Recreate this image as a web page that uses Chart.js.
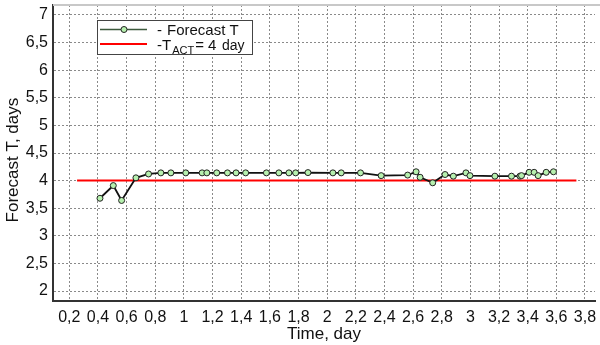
<!DOCTYPE html>
<html><head><meta charset="utf-8">
<script src="https://cdn.jsdelivr.net/npm/chart.js@4/dist/chart.umd.min.js"></script>
<style>html,body{margin:0;padding:0;background:#fff;}canvas{display:block;}</style>
</head><body>
<canvas id="c" width="600" height="345"></canvas>
<script>
// ---- data ----
const timeDays = [0.414, 0.507, 0.565, 0.665, 0.753, 0.839, 0.909, 1.013, 1.127, 1.160,
  1.229, 1.304, 1.364, 1.431, 1.576, 1.663, 1.733, 1.780, 1.866, 2.040,
  2.098, 2.233, 2.377, 2.562, 2.621, 2.649, 2.737, 2.823, 2.881, 2.969,
  2.997, 3.171, 3.287, 3.346, 3.357, 3.410, 3.445, 3.473, 3.529, 3.580];
const forecastT = [3.68, 3.91, 3.64, 4.05, 4.12, 4.14, 4.14, 4.14, 4.14, 4.14,
  4.14, 4.14, 4.14, 4.14, 4.14, 4.14, 4.14, 4.14, 4.145, 4.14,
  4.14, 4.14, 4.09, 4.10, 4.16, 4.06, 3.96, 4.11, 4.08, 4.14,
  4.09, 4.08, 4.08, 4.08, 4.09, 4.15, 4.15, 4.09, 4.15, 4.16];
const actTime = [0.254, 3.74];
const actValue = [4, 4];
const xTicks = [0.2,0.4,0.6,0.8,1,1.2,1.4,1.6,1.8,2,2.2,2.4,2.6,2.8,3,3.2,3.4,3.6,3.8];
const yTicks = [2,2.5,3,3.5,4,4.5,5,5.5,6,6.5,7];
const xTitle = 'Time, day';
const yTitle = 'Forecast T, days';
const legendForecast = 'Forecast T';
const legendAct = {pre:'-T', sub:'ACT', eq:'=', val:'4', unit:'day'};

const FONT = "'Liberation Sans', Arial, sans-serif";
const fmt = v => String(Math.round(v*10)/10).replace('.', ',');

const bgPlugin = {
  id: 'bg',
  beforeDraw(chart) {
    const ctx = chart.ctx;
    ctx.save(); ctx.fillStyle = '#fff'; ctx.fillRect(0,0,chart.width,chart.height); ctx.restore();
  },
  afterDraw(chart) {
    const ctx = chart.ctx, a = chart.chartArea;
    ctx.save();
    // top frame line
    ctx.strokeStyle = '#c8c8c8'; ctx.lineWidth = 2;
    ctx.beginPath(); ctx.moveTo(a.left, a.top); ctx.lineTo(chart.width, a.top); ctx.stroke();
    // legend box
    const bx = 97.5, by = 20.5, bw = 155, bh = 34;
    ctx.fillStyle = '#fff'; ctx.fillRect(bx, by, bw, bh);
    ctx.strokeStyle = '#444'; ctx.lineWidth = 1; ctx.strokeRect(bx, by, bw, bh);
    // row 1
    ctx.strokeStyle = '#3d5a3d'; ctx.lineWidth = 1.5;
    ctx.beginPath(); ctx.moveTo(100, 29.5); ctx.lineTo(147, 29.5); ctx.stroke();
    ctx.beginPath(); ctx.arc(124, 29.5, 3, 0, Math.PI*2);
    ctx.fillStyle = '#b6f0ae'; ctx.fill(); ctx.strokeStyle = '#222'; ctx.lineWidth = 1; ctx.stroke();
    ctx.fillStyle = '#111'; ctx.textBaseline = 'alphabetic'; ctx.textAlign = 'left';
    ctx.font = '15px ' + FONT;
    ctx.fillText('-', 157, 35);
    ctx.fillText(legendForecast, 167, 35);
    // row 2
    ctx.strokeStyle = '#ff0000'; ctx.lineWidth = 2;
    ctx.beginPath(); ctx.moveTo(100, 44); ctx.lineTo(147, 44); ctx.stroke();
    ctx.font = '15px ' + FONT;
    ctx.fillText(legendAct.pre, 157, 50);
    let w = ctx.measureText(legendAct.pre).width;
    ctx.font = '11px ' + FONT;
    ctx.fillText(legendAct.sub, 158 + w, 54);
    w += ctx.measureText(legendAct.sub).width + 1;
    ctx.font = '15px ' + FONT;
    ctx.fillText(legendAct.eq, 158 + w, 50);
    ctx.fillText(legendAct.val, 208, 50);
    ctx.font = '14px ' + FONT;
    ctx.fillText(legendAct.unit, 222, 50);
    ctx.restore();
  }
};

new Chart(document.getElementById('c'), {
  type: 'line',
  data: {
    datasets: [
      {
        label: legendForecast,
        data: timeDays.map((t, i) => ({x: t, y: forecastT[i]})),
        borderColor: '#111', borderWidth: 1.8,
        pointRadius: 3, pointBackgroundColor: '#b6f0ae', pointBorderColor: '#222', pointBorderWidth: 1,
        tension: 0, fill: false
      },
      {
        label: 'T_ACT',
        data: actTime.map((t, i) => ({x: t, y: actValue[i]})),
        borderColor: '#ff0000', borderWidth: 2, pointRadius: 0, tension: 0, fill: false
      }
    ]
  },
  options: {
    responsive: false, animation: false, devicePixelRatio: 1,
    layout: {padding: {top: 5, right: 0, left: 0, bottom: 0}},
    plugins: {legend: {display: false}, tooltip: {enabled: false}},
    scales: {
      x: {
        type: 'linear', min: 0.086, max: 3.87,
        afterBuildTicks: s => { s.ticks = xTicks.map(v => ({value: v})); },
        afterFit: s => { s.height = 44; s.paddingRight = 0; s.paddingLeft = 0; },
        ticks: {callback: v => fmt(v), font: {size: 16, family: FONT}, color: '#111', padding: 7, maxRotation: 0, autoSkip: false},
        grid: {color: '#8a8a8a', lineWidth: 1, drawTicks: false},
        border: {color: '#333', width: 2, dash: [2, 2]},
        title: {display: true, text: xTitle, font: {size: 17, family: FONT}, color: '#111', padding: {top: 0, bottom: 0}}
      },
      y: {
        type: 'linear', min: 1.819, max: 7.181,
        afterBuildTicks: s => { s.ticks = yTicks.map(v => ({value: v})); },
        afterFit: s => { s.width = 53; s.paddingTop = 0; s.paddingBottom = 0; },
        ticks: {callback: v => fmt(v), font: {size: 16, family: FONT}, color: '#111', padding: 5, autoSkip: false},
        grid: {color: '#8a8a8a', lineWidth: 1, drawTicks: false},
        border: {color: '#333', width: 2, dash: [2, 2]},
        title: {display: true, text: yTitle + '   ', font: {size: 17, family: FONT}, color: '#111', padding: {top: 3, bottom: 0}}
      }
    }
  },
  plugins: [bgPlugin]
});
</script>
</body></html>
